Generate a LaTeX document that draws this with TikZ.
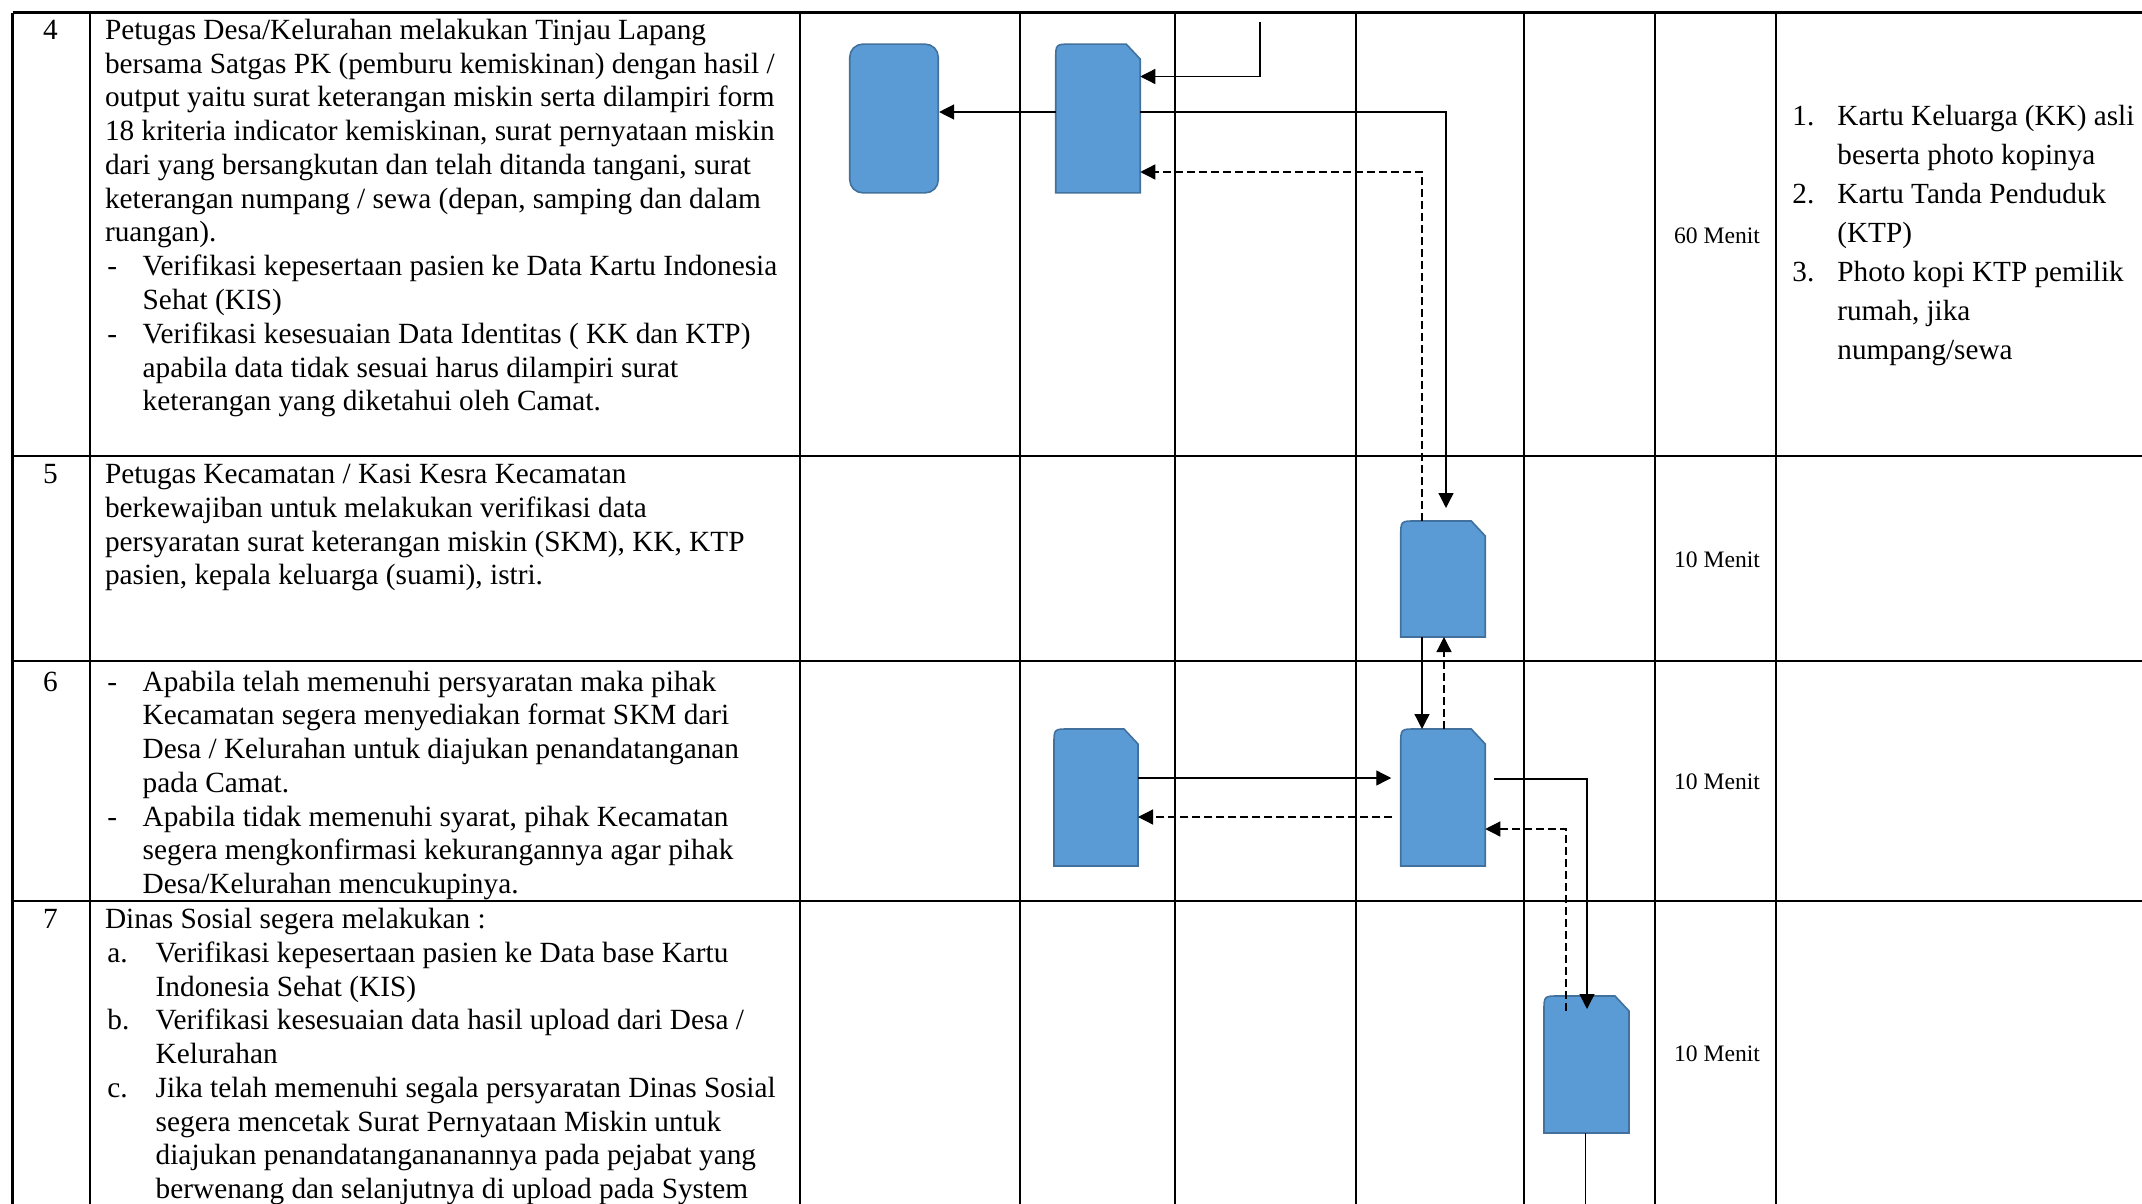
\documentclass[tikz,border=0pt]{standalone}
\usepackage{fontspec}
\setmainfont{Liberation Serif}
\usetikzlibrary{arrows.meta,calc}
\definecolor{boxfill}{HTML}{5B9BD5}
\definecolor{boxline}{HTML}{41719C}
\newcommand\dashitem{\makebox[17.65pt][l]{-}}
\newcommand\dashcont{\hspace*{17.65pt}}
\newcommand\letitem[1]{\makebox[24.15pt][l]{#1}}
\newcommand\letcont{\hspace*{24.15pt}}
\newcommand\numitem[1]{\makebox[22.5pt][l]{#1}}
\newcommand\numcont{\hspace*{22.5pt}}
\newcommand\snipshape[1]{%
  \draw[shp] (#1.south west) -- ($(#1.north west)+(0,-15)$)
    .. controls (#1.north west) .. ($(#1.north west)+(15,0)$)
    -- ($(#1.north east)+(-14,0)$) -- ($(#1.north east)+(0,-15)$)
    -- (#1.south east) -- cycle;}
\tikzset{
  gridline/.style={line width=1.4pt, black},
  shp/.style={fill=boxfill, draw=boxline, line width=0.8pt},
  anchorbox/.style={draw=none, inner sep=0pt, outer sep=0pt},
  arr/.style={line width=0.65pt, -{Triangle[length=7.5pt,width=7.5pt]}},
  darr/.style={arr, dash pattern=on 4pt off 2pt},
  plainline/.style={line width=0.65pt},
  maintxt/.style={inner sep=0pt, anchor=base west, font=\fontsize{14.65pt}{16.875pt}\selectfont},
  numtxt/.style={inner sep=0pt, anchor=base, font=\fontsize{14.65pt}{16.875pt}\selectfont},
  timetxt/.style={inner sep=0pt, anchor=base, font=\fontsize{11.8pt}{14pt}\selectfont},
  reqtxt/.style={inner sep=0pt, anchor=base west, font=\fontsize{14.6pt}{19.5pt}\selectfont},
}
\begin{document}
\begin{tikzpicture}[x=0.5pt,y=0.5pt]
\useasboundingbox (0,0) rectangle (2142,-1204);
\clip (0,0) rectangle (2142,-1204);
% table grid
\foreach \yy in {12.7,456,661,901} \draw[gridline] (12.7,-\yy) -- (2150,-\yy);
\foreach \xx in {12.7,90,800,1020,1175,1356,1524,1655,1776} \draw[gridline] (\xx,-12.7) -- (\xx,-1210);

% row numbers
\node[numtxt] (n4) at (50.5,-39.5) {4};
\node[numtxt] (n5) at (50.5,-483.5) {5};
\node[numtxt] (n6) at (50.5,-691) {6};
\node[numtxt] (n7) at (50.5,-928.5) {7};

% row 4 text
\node[maintxt] (r4a) at (104.6,-39.5) {\begin{tabular}[t]{@{}l@{}}
Petugas Desa/Kelurahan melakukan Tinjau Lapang\\
bersama Satgas PK (pemburu kemiskinan) dengan hasil /\\
output yaitu surat keterangan miskin serta dilampiri form\\
18 kriteria indicator kemiskinan, surat pernyataan miskin\\
dari yang bersangkutan dan telah ditanda tangani, surat\\
keterangan numpang / sewa (depan, samping dan dalam\\
ruangan).
\end{tabular}};
\node[maintxt] (r4b) at (107,-275.75) {\begin{tabular}[t]{@{}l@{}}
\dashitem Verifikasi kepesertaan pasien ke Data Kartu Indonesia\\
\dashcont Sehat (KIS)\\
\dashitem Verifikasi kesesuaian Data Identitas ( KK dan KTP)\\
\dashcont apabila data tidak sesuai harus dilampiri surat\\
\dashcont keterangan yang diketahui oleh Camat.
\end{tabular}};

% row 5 text
\node[maintxt] (r5) at (104.6,-483.5) {\begin{tabular}[t]{@{}l@{}}
Petugas Kecamatan / Kasi Kesra Kecamatan\\
berkewajiban untuk melakukan verifikasi data\\
persyaratan surat keterangan miskin (SKM), KK, KTP\\
pasien, kepala keluarga (suami), istri.
\end{tabular}};

% row 6 text
\node[maintxt] (r6) at (107,-691) {\begin{tabular}[t]{@{}l@{}}
\dashitem Apabila telah memenuhi persyaratan maka pihak\\
\dashcont Kecamatan segera menyediakan format SKM dari\\
\dashcont Desa / Kelurahan untuk diajukan penandatanganan\\
\dashcont pada Camat.\\
\dashitem Apabila tidak memenuhi syarat, pihak Kecamatan\\
\dashcont segera mengkonfirmasi kekurangannya agar pihak\\
\dashcont Desa/Kelurahan mencukupinya.
\end{tabular}};

% row 7 text
\node[maintxt] (r7a) at (104.6,-928.5) {Dinas Sosial segera melakukan :};
\node[maintxt] (r7b) at (107,-962.25) {\begin{tabular}[t]{@{}l@{}}
\letitem{a.}Verifikasi kepesertaan pasien ke Data base Kartu\\
\letcont Indonesia Sehat (KIS)\\
\letitem{b.}Verifikasi kesesuaian data hasil upload dari Desa /\\
\letcont Kelurahan\\
\letitem{c.}Jika telah memenuhi segala persyaratan Dinas Sosial\\
\letcont segera mencetak Surat Pernyataan Miskin untuk\\
\letcont diajukan penandatangananannya pada pejabat yang\\
\letcont berwenang dan selanjutnya di upload pada System
\end{tabular}};

% time column
\node[timetxt] (t4) at (1717,-243) {60 Menit};
\node[timetxt] (t5) at (1717,-567) {10 Menit};
\node[timetxt] (t6) at (1717,-789) {10 Menit};
\node[timetxt] (t7) at (1717,-1061) {10 Menit};

% requirements
\node[reqtxt] (req) at (1792,-126) {\begin{tabular}[t]{@{}l@{}}
\numitem{1.}Kartu Keluarga (KK) asli\\
\numcont beserta photo kopinya\\
\numitem{2.}Kartu Tanda Penduduk\\
\numcont (KTP)\\
\numitem{3.}Photo kopi KTP pemilik\\
\numcont rumah, jika\\
\numcont numpang/sewa
\end{tabular}};

% flow shapes
\node[shp, rounded corners=6.5pt, minimum width=44.25pt, minimum height=74.35pt, inner sep=0pt] (A) at (894,-118.5) {};
\node[anchorbox, minimum width=42.25pt, minimum height=74.35pt] (B) at (1098,-118.5) {};
\node[anchorbox, minimum width=42.25pt, minimum height=58pt] (C) at (1443,-579) {};
\node[anchorbox, minimum width=42.25pt, minimum height=68.5pt] (D) at (1443,-797.5) {};
\node[anchorbox, minimum width=42pt, minimum height=68.5pt] (E) at (1096,-797.5) {};
\node[anchorbox, minimum width=42.5pt, minimum height=68.5pt] (F) at (1586.5,-1064.5) {};
\snipshape{B}
\snipshape{C}
\snipshape{D}
\snipshape{E}
\snipshape{F}

% connectors
\coordinate (topin) at (1260,-22);
\coordinate (fbot) at (1585.5,-1210);
\draw[arr] (topin) |- ($(B.east)+(0,42)$);
\draw[arr] ($(B.west)+(0,6.5)$) -- ($(A.east)+(0,6.5)$);
\draw[arr] ($(B.east)+(0,6.5)$) -| ($(C.north)+(3,13)$);
\draw[darr] ($(C.north)+(-21,0)$) |- ($(B.east)+(0,-53.5)$);
\draw[arr] ($(C.south)+(-21,0)$) -- ($(D.north)+(-21,0)$);
\draw[darr] ($(D.north)+(1,0)$) -- ($(C.south)+(1,0)$);
\draw[arr] ($(E.east)+(0,19.5)$) -- ($(D.west)+(-9.5,19.5)$);
\draw[darr] ($(D.west)+(-8.5,-19.5)$) -- ($(E.east)+(0,-19.5)$);
\draw[arr] ($(D.east)+(9,18.5)$) -| ($(F.north)+(0.5,-13)$);
\draw[darr] ($(F.north)+(-20.5,-15)$) |- ($(D.east)+(0,-31.5)$);
\draw[plainline] ($(F.south)+(-1,0)$) -- (fbot);
\end{tikzpicture}
\end{document}
